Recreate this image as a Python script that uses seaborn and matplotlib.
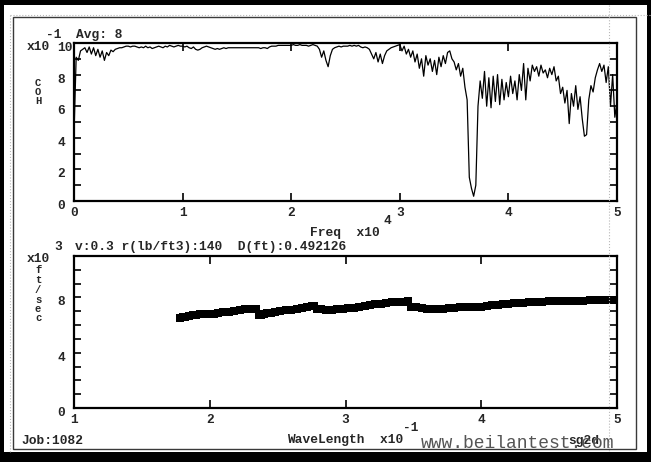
import numpy as np
import matplotlib
matplotlib.use("Agg")
import matplotlib.pyplot as plt
import matplotlib.transforms as mtransforms
from matplotlib.patches import Rectangle
from matplotlib.lines import Line2D
from matplotlib.ticker import MultipleLocator
import seaborn as sns

# top panel: coherence (x10^-1) against frequency (x10^4), one value per step
FREQ_STEP = 0.02
coh = [
    4.3, 9.1, 8.9, 9.5, 9.6,
    9.7, 9.4, 9.75, 9.3, 9.7, 9.2, 9.6, 9.1, 9.5, 8.9, 9.4, 9.2, 9.55, 9.45, 9.6, 9.65, 9.7, 9.7, 9.75, 9.8, 9.8,
    9.75, 9.8, 9.8, 9.75, 9.7, 9.75, 9.7, 9.8, 9.7, 9.75, 9.65, 9.7, 9.75, 9.8, 9.75, 9.7, 9.8, 9.75, 9.85, 9.8, 9.75, 9.8, 9.85, 9.8, 9.8,
    9.75, 9.8, 9.7, 9.65, 9.75, 9.6, 9.55, 9.6, 9.7, 9.75, 9.8, 9.75, 9.7, 9.65, 9.6, 9.65, 9.6, 9.65, 9.7, 9.65, 9.7, 9.7, 9.7, 9.7, 9.7,
    9.7, 9.7, 9.7, 9.7, 9.7, 9.7, 9.7, 9.7, 9.7, 9.7, 9.65, 9.7, 9.7, 9.65, 9.75, 9.8, 9.8, 9.8, 9.85, 9.85, 9.85, 9.85, 9.85, 9.85, 9.85,
    9.9, 9.85, 9.85, 9.9, 9.85, 9.85, 9.85, 9.8, 9.85, 9.9, 9.85, 9.8, 9.6, 9.1, 9.5, 8.9, 8.5, 9.2, 9.6, 9.7, 9.75, 9.8, 9.75, 9.8, 9.8,
    9.8, 9.85, 9.8, 9.85, 9.8, 9.85, 9.75, 9.7, 9.75, 9.7, 9.6, 9.3, 9.0, 9.4, 8.8, 9.3, 8.7, 9.2, 9.5, 9.6, 9.7, 9.75, 9.8, 9.85, 9.9,
    9.5, 9.8, 9.3, 9.6, 9.1, 9.5, 8.8, 9.3, 8.4, 9.0, 7.9, 9.2, 8.6, 9.0, 8.2, 8.9, 8.0, 9.1, 8.5, 9.2, 8.7, 9.4, 9.5, 9.0, 8.8,
    8.3, 8.7, 7.9, 8.4, 7.2, 6.4, 1.5, 0.8, 0.3, 1.0, 6.0, 7.6, 6.5, 8.2, 6.0, 7.8, 5.9, 7.9, 6.3, 8.0, 6.1, 7.7, 6.4, 7.5, 6.6,
    7.9, 6.8, 7.6, 6.4, 8.0, 7.0, 8.7, 6.4, 8.4, 7.6, 8.6, 8.2, 8.5, 7.9, 8.6, 8.1, 8.3, 7.8, 8.4, 8.0, 8.5, 7.6, 7.9, 6.8, 7.2,
    6.2, 7.0, 4.9, 6.8, 6.0, 7.3, 5.8, 6.6, 5.2, 4.1, 4.2, 6.4, 7.3, 6.9, 7.8, 8.3, 8.7, 8.2, 8.6, 7.5, 8.5, 6.0, 8.0, 5.3, 6.3,
]
freq = np.arange(len(coh)) * FREQ_STEP

# bottom panel: phase velocity (x10^3 ft/sec) against wavelength (x10^-1)
wavelength = [
    1.78, 1.80, 1.82, 1.85, 1.88, 1.90, 1.93, 1.96, 2.00, 2.03, 2.06, 2.10, 2.14, 2.18,
    2.22, 2.26, 2.30, 2.34, 2.36, 2.38, 2.40, 2.42, 2.45, 2.48, 2.52, 2.56, 2.60, 2.64,
    2.68, 2.72, 2.75, 2.77, 2.79, 2.82, 2.86, 2.90, 2.94, 2.98, 3.02, 3.06, 3.10, 3.14,
    3.18, 3.22, 3.26, 3.30, 3.34, 3.38, 3.42, 3.46, 3.48, 3.52, 3.56, 3.60, 3.64, 3.68,
    3.72, 3.76, 3.80, 3.84, 3.88, 3.92, 3.96, 4.00, 4.04, 4.08, 4.12, 4.16, 4.20, 4.24,
    4.27, 4.31, 4.35, 4.40, 4.45, 4.50, 4.56, 4.62, 4.66, 4.70, 4.75, 4.80, 4.84, 4.88,
    4.91, 4.94, 4.97, 5.00,
]
velocity = [
    6.50, 6.55, 6.60, 6.65, 6.72, 6.75, 6.80, 6.82, 6.82, 6.83, 6.86, 6.92, 6.98, 7.04,
    7.10, 7.14, 7.17, 7.15, 6.75, 6.72, 6.80, 6.85, 6.90, 6.95, 7.00, 7.06, 7.12, 7.18,
    7.25, 7.32, 7.38, 7.40, 7.15, 7.14, 7.12, 7.12, 7.14, 7.18, 7.22, 7.27, 7.32, 7.38,
    7.44, 7.50, 7.55, 7.60, 7.64, 7.66, 7.70, 7.75, 7.30, 7.28, 7.24, 7.20, 7.18, 7.18,
    7.20, 7.23, 7.25, 7.28, 7.30, 7.32, 7.33, 7.34, 7.38, 7.42, 7.46, 7.50, 7.53, 7.57,
    7.59, 7.62, 7.65, 7.68, 7.70, 7.72, 7.73, 7.75, 7.76, 7.77, 7.77, 7.78, 7.79, 7.80,
    7.80, 7.81, 7.82, 7.82,
]

sns.set_style("ticks")
plt.rcParams['font.family'] = ['Liberation Mono', 'DejaVu Sans Mono']
plt.rcParams['font.weight'] = 'bold'
plt.rcParams['font.size'] = 9.3

W, H = 651, 462
fig = plt.figure(figsize=(W / 100, H / 100), dpi=100, facecolor='black')


def fx(px):
    return px / W


def fy(py):
    return 1 - py / H


# screen frame
fig.add_artist(Rectangle((fx(4), fy(452)), fx(647) - fx(4), fy(5) - fy(452),
                         transform=fig.transFigure, facecolor='white', edgecolor='none', zorder=-2))
fig.add_artist(Rectangle((fx(13), fy(449)), fx(636) - fx(13), fy(17) - fy(449),
                         transform=fig.transFigure, fill=False, edgecolor='#3a3a3a', lw=1, zorder=-1))
for xs, ys, z in [([fx(10), fx(651)], [fy(15), fy(15)], -1),
                  ([fx(10), fx(10)], [fy(15), fy(452)], -1),
                  ([fx(609), fx(609)], [fy(5), fy(452)], 5)]:
    fig.add_artist(Line2D(xs, ys, transform=fig.transFigure, color='#b8b8b8', lw=0.8, ls=':', zorder=z))

ax1 = fig.add_axes([fx(74), fy(201), fx(617) - fx(74), fy(43) - fy(201)])
ax2 = fig.add_axes([fx(74), fy(408), fx(617) - fx(74), fy(256) - fy(408)])

sns.lineplot(x=freq, y=coh, ax=ax1, color='black', linewidth=0.9)
sns.scatterplot(x=wavelength, y=velocity, ax=ax2, marker='s', s=28, color='black',
                edgecolor='black', linewidth=0)

ax1.set_xlim(0, 5)
ax1.set_ylim(0, 10)
ax2.set_xlim(1, 5)
ax2.set_ylim(0, 11)

down = mtransforms.ScaledTranslation(0, -3.5 / 100, fig.dpi_scale_trans)
for ax, yt, xt in [(ax1, [0, 2, 4, 6, 8, 10], [0, 1, 2, 3, 4, 5]),
                   (ax2, [0, 4, 8], [1, 2, 3, 4, 5])]:
    for sp in ax.spines.values():
        sp.set_visible(True)
        sp.set_linewidth(1.6)
        sp.set_color('black')
    ax.set_xlabel('')
    ax.set_ylabel('')
    ax.yaxis.set_minor_locator(MultipleLocator(1))
    ax.tick_params(axis='both', which='both', direction='in', top=True, right=True,
                   width=1.2, color='black', labelsize=9.3)
    ax.tick_params(axis='y', which='both', length=5, pad=12.2)
    ax.tick_params(axis='x', which='both', length=6, pad=4.5)
    ax.set_yticks(yt, [str(v) for v in yt], ha='left')
    ax.set_xticks(xt, [str(v) for v in xt])
    for lbl in ax.get_yticklabels():
        lbl.set_transform(lbl.get_transform() + down)


def txt(px, py, s, **kw):
    fig.text(fx(px), fy(py), s, ha='left', va='center', **kw)


txt(46, 35, '-1')
txt(76, 35, 'Avg: 8')
txt(27, 47, 'x10')
# stacked axis names, one letter per line
for ch, py in zip('COH', [83, 92, 101]):
    fig.text(fx(38), fy(py), ch, ha='center', va='center', fontsize=7.6)
for ch, py in zip('ft/sec', [270, 280, 290, 300, 309, 318]):
    fig.text(fx(38), fy(py), ch, ha='center', va='center', fontsize=7.6)
txt(384, 221, '4')
txt(310, 233, 'Freq  x10')
txt(54, 247, '3')
txt(75, 247, 'v:0.3 r(lb/ft3):140  D(ft):0.492126')
txt(27, 259, 'x10')
txt(403, 428, '-1')
txt(287, 440, 'WaveLength  x10')
txt(21, 441, 'Job:1082')
txt(568, 441, 'sg2d')
txt(421, 444, 'www.beilantest.com', color='#555555', fontweight='normal', fontsize=13)

fig.savefig('out.png', dpi=100, facecolor='black')
